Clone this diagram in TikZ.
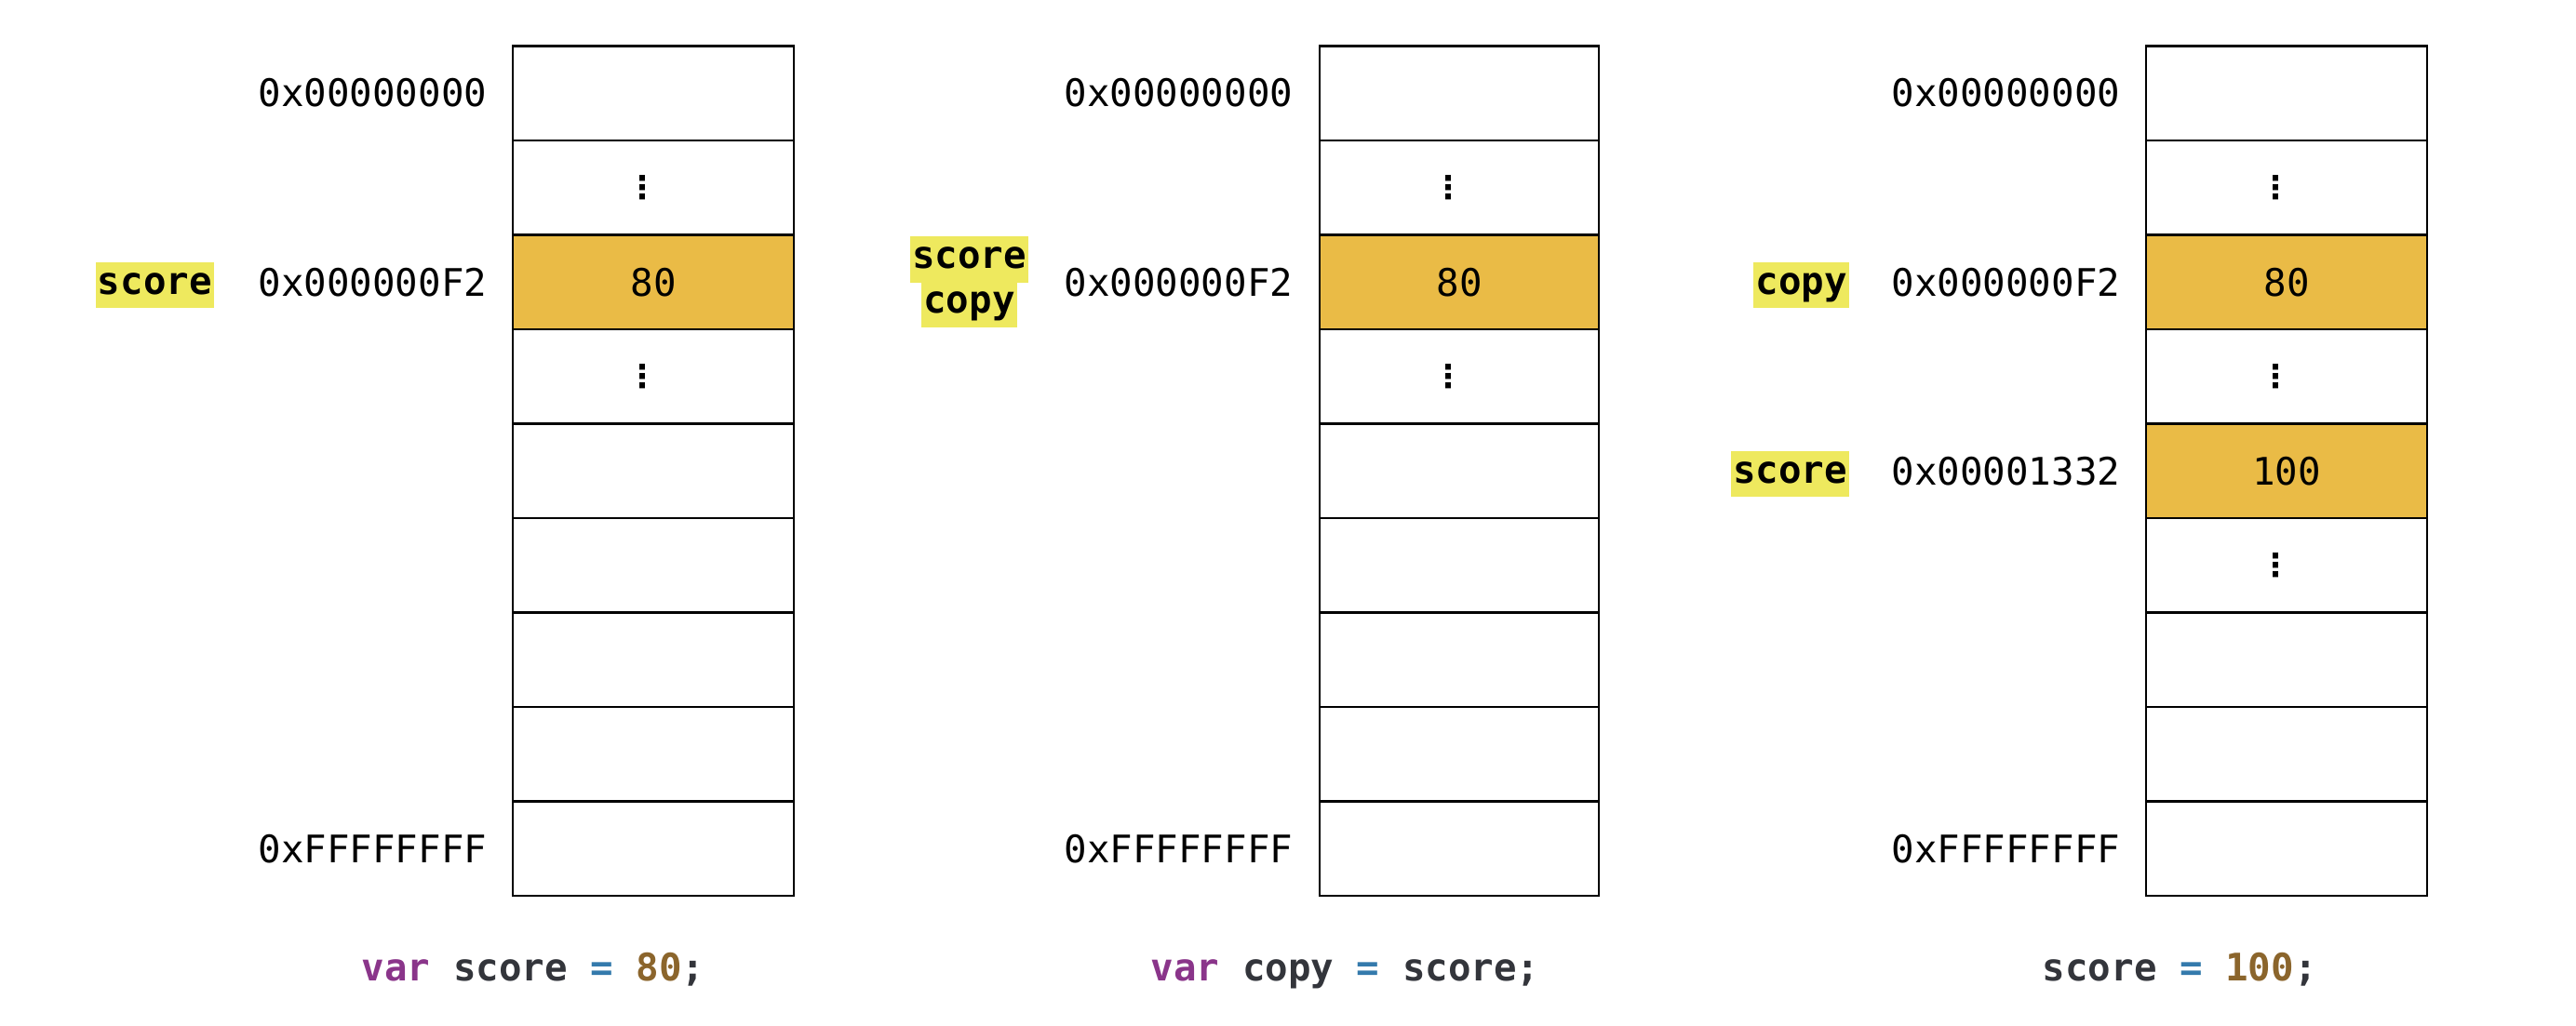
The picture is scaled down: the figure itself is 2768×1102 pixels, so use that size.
\documentclass[tikz,border=0pt]{standalone}
\usepackage{fontspec}
\setmonofont{DejaVu Sans Mono}
\newfontfamily\dotsfont{DejaVu Sans}
\definecolor{hlyellow}{RGB}{238,233,94}
\definecolor{cellorange}{RGB}{234,187,70}
\definecolor{kwpurple}{RGB}{138,53,138}
\definecolor{iddark}{RGB}{51,53,59}
\definecolor{opblue}{RGB}{52,122,172}
\definecolor{numbrown}{RGB}{139,101,44}
\newcommand\memfont{\fontsize{10.2}{12}\selectfont\ttfamily}
\newcommand\codefont{\fontsize{10.2}{12}\selectfont\ttfamily\bfseries}
\begin{document}
\begin{tikzpicture}[x=0.25pt,y=-0.25pt,
  cell/.style={draw=black, line width=0.6pt, minimum width=75.5pt, minimum height=25.375pt, inner sep=0pt, font=\memfont},
  filled/.style={cell, fill=cellorange},
  addr/.style={anchor=east, inner sep=0pt, font=\memfont},
  varlabel/.style={fill=hlyellow, inner xsep=0.6pt, inner ysep=0.5pt, text height=8.1pt, text depth=3.2pt, font=\codefont},
  vdots/.style={inner sep=0pt, font=\fontsize{8.5}{10}\selectfont\dotsfont\bfseries},
  code/.style={anchor=west, inner sep=0pt, text height=8pt, text depth=2.5pt, font=\codefont}
]
\useasboundingbox (0,0) rectangle (2768,1102);
% ---------- panel 1 ----------
\foreach \i in {0,...,8} {
  \pgfmathsetmacro{\yy}{100.15+101.5*\i}
  \ifnum\i=2
    \node[filled] (a\i) at (702,\yy) {80};
  \else
    \node[cell] (a\i) at (702,\yy) {};
  \fi
}
\node[vdots] (adots1) at ([xshift=-3pt]a1.center) {⋮};
\node[vdots] (adots3) at ([xshift=-3pt]a3.center) {⋮};
\node[addr] (aaddr0) at (524,100.15) {0x00000000};
\node[addr] (aaddr2) at (524,303.15) {0x000000F2};
\node[addr] (aaddr8) at (524,912.15) {0xFFFFFFFF};
\node[varlabel, anchor=east] (ascore) at (231,306.5) {score};
\node[code] (acode) at (388,1043) {\textcolor{kwpurple}{var} \textcolor{iddark}{score} \textcolor{opblue}{=} \textcolor{numbrown}{80}\textcolor{iddark}{;}};
% ---------- panel 2 ----------
\foreach \i in {0,...,8} {
  \pgfmathsetmacro{\yy}{100.15+101.5*\i}
  \ifnum\i=2
    \node[filled, minimum width=75pt] (b\i) at (1568,\yy) {80};
  \else
    \node[cell, minimum width=75pt] (b\i) at (1568,\yy) {};
  \fi
}
\node[vdots] (bdots1) at ([xshift=-3pt]b1.center) {⋮};
\node[vdots] (bdots3) at ([xshift=-3pt]b3.center) {⋮};
\node[addr] (baddr0) at (1390,100.15) {0x00000000};
\node[addr] (baddr2) at (1390,303.15) {0x000000F2};
\node[addr] (baddr8) at (1390,912.15) {0xFFFFFFFF};
\node[varlabel] (bscore) at (1041.5,279) {score};
\node[varlabel] (bcopy) at (1041.5,327) {copy};
\node[code] (bcode) at (1236,1043) {\textcolor{kwpurple}{var} \textcolor{iddark}{copy} \textcolor{opblue}{=} \textcolor{iddark}{score;}};
% ---------- panel 3 ----------
\foreach \i in {0,...,8} {
  \pgfmathsetmacro{\yy}{100.15+101.5*\i}
  \ifnum\i=2
    \node[filled] (c\i) at (2457,\yy) {80};
  \else\ifnum\i=4
    \node[filled] (c\i) at (2457,\yy) {100};
  \else
    \node[cell] (c\i) at (2457,\yy) {};
  \fi\fi
}
\node[vdots] (cdots1) at ([xshift=-3pt]c1.center) {⋮};
\node[vdots] (cdots3) at ([xshift=-3pt]c3.center) {⋮};
\node[vdots] (cdots5) at ([xshift=-3pt]c5.center) {⋮};
\node[addr] (caddr0) at (2279,100.15) {0x00000000};
\node[addr] (caddr2) at (2279,303.15) {0x000000F2};
\node[addr] (caddr4) at (2279,506.15) {0x00001332};
\node[addr] (caddr8) at (2279,912.15) {0xFFFFFFFF};
\node[varlabel, anchor=east] (ccopy) at (1988,306.5) {copy};
\node[varlabel, anchor=east] (cscore) at (1988,509.5) {score};
\node[code] (ccode) at (2194,1043) {\textcolor{iddark}{score} \textcolor{opblue}{=} \textcolor{numbrown}{100}\textcolor{iddark}{;}};
\end{tikzpicture}
\end{document}
